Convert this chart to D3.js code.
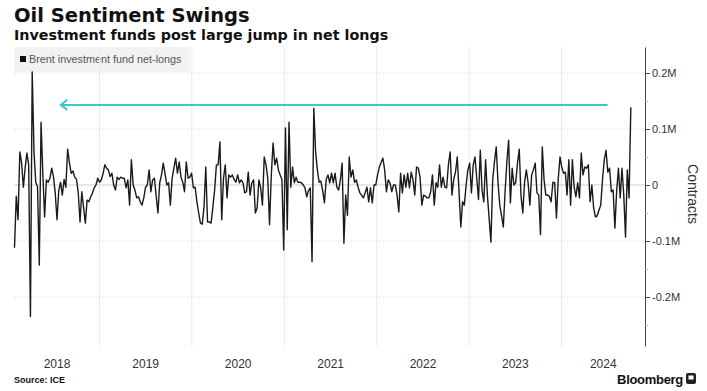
<!DOCTYPE html>
<html>
<head>
<meta charset="utf-8">
<script src="https://cdn.jsdelivr.net/npm/d3@7"></script>
<style>
html,body{margin:0;padding:0;background:#fff;}
svg{display:block;}
</style>
</head>
<body>
<svg id="chart" width="707" height="391"></svg>
<script>
// ---------- data ----------
const title = "Oil Sentiment Swings";
const subtitle = "Investment funds post large jump in net longs";
const seriesName = "Brent investment fund net-longs";
const yAxisTitle = "Contracts";
const sourceText = "Source: ICE";
const brandText = "Bloomberg";
const firstWeek = "2018-01-30"; // weekly observations (Tuesdays)
// weekly change in net longs, thousand contracts
const netLongChangeK = [
-112,-20,-62,59,40,-4,30,57,36,-235,202,60,5,-3,-143,112,20,-57,9,5,
12,30,15,-14,-62,-10,5,-18,10,-4,64,40,21,25,14,10,-14,-66,-12,-40,
-68,-27,-30,-21,-15,-5,0,12,5,9,20,36,30,27,15,21,0,-9,14,10,
14,12,12,-5,9,-36,45,0,-9,-23,-21,-30,-36,-23,-4,0,27,-12,9,12,
-20,-50,4,18,39,20,0,4,-36,12,30,48,21,41,14,5,-12,41,12,14,
21,-5,-4,-30,-50,-68,-70,-40,32,-66,-66,-68,-40,-9,36,36,77,-62,12,36,
-23,18,14,18,10,5,18,4,9,4,-14,-12,23,-18,4,9,-50,-41,9,-5,
-36,50,36,12,-71,18,75,36,48,27,18,10,-116,102,-80,112,-4,32,4,14,
5,5,4,0,-5,-21,-10,-5,-137,137,60,27,5,7,-10,-32,10,18,4,21,
4,21,-4,-9,9,39,-104,-18,-54,50,14,27,5,9,-4,-14,-18,-23,-14,-4,
-30,-5,-32,0,0,18,32,40,48,27,-12,9,4,-12,0,0,-18,-48,21,-14,
18,-4,21,-5,23,9,-18,32,30,14,-36,-18,-20,-23,-23,-12,18,-36,4,-4,
36,-4,14,-4,-5,36,59,-18,10,23,50,-12,-75,-30,-36,0,27,39,-14,36,
50,12,-26,62,-10,-30,45,-18,-60,-102,9,41,68,5,-36,-55,-75,-12,41,80,
-32,30,0,4,39,64,-20,-50,5,27,4,-36,18,27,39,-14,-18,-89,68,10,
-18,-18,-20,-30,5,4,-59,10,50,32,21,23,-18,45,-36,45,-4,-21,4,-23,
57,18,32,30,36,-30,0,-41,-57,-55,-45,-36,9,45,62,23,30,-12,-9,-77,
-10,30,-23,30,-18,-93,27,-23,139
];
const yTicks = [-0.2, -0.1, 0, 0.1, 0.2];
const yTickLabels = ["-0.2M", "-0.1M", "0", "0.1M", "0.2M"];
const yMinorTicks = [-0.25, -0.15, -0.05, 0.05, 0.15];
const yearLabels = ["2018", "2019", "2020", "2021", "2022", "2023", "2024"];
const xDomain = ["2018-01-30", "2024-11-26"];
const yDomain = [-0.2875, 0.2464];
// annotation arrow (points back to the early-2018 level)
const arrowFrom = "2024-07-01", arrowTo = "2018-07-30", arrowLevel = 0.143;

// ---------- build ----------
const parse = d3.utcParse("%Y-%m-%d");
const start = parse(firstWeek);
const data = netLongChangeK.map((v, i) => ({ date: d3.utcDay.offset(start, i * 7), v: v / 1000 }));

const svg = d3.select("#chart");
const L = 14.5, R = 645, T = 47, B = 346;
const x = d3.scaleUtc().domain(xDomain.map(parse)).range([L, R]);
const y = d3.scaleLinear().domain(yDomain).range([B, T]);

// titles
svg.append("text").attr("x", 14).attr("y", 22)
  .attr("font-family", "DejaVu Sans").attr("font-weight", "bold").attr("font-size", 19.5)
  .attr("fill", "#111").text(title);
svg.append("text").attr("x", 14).attr("y", 40)
  .attr("font-family", "DejaVu Sans").attr("font-weight", "bold").attr("font-size", 14.3)
  .attr("fill", "#111").text(subtitle);

// legend box
svg.append("rect").attr("x", 14).attr("y", 47).attr("width", 176).attr("height", 25).attr("fill", "#f2f2f2");
svg.append("rect").attr("x", 20).attr("y", 56).attr("width", 6).attr("height", 6).attr("fill", "#111");
svg.append("text").attr("x", 29).attr("y", 63)
  .attr("font-family", "Liberation Sans").attr("font-size", 10.8).attr("fill", "#555").text(seriesName);

// vertical gridlines at year boundaries
const yearStarts = yearLabels.slice(1).map(s => d3.utcParse("%Y")(s));
svg.append("g").selectAll("line").data(yearStarts).join("line")
  .attr("x1", d => x(d)).attr("x2", d => x(d)).attr("y1", T).attr("y2", B)
  .attr("stroke", "#e8e8e8").attr("stroke-width", 1);

// horizontal gridlines
svg.append("g").selectAll("line").data(yTicks).join("line")
  .attr("x1", L).attr("x2", R).attr("y1", d => y(d)).attr("y2", d => y(d))
  .attr("stroke", d => d === 0 ? "#cfcfcf" : "#dedede")
  .attr("stroke-dasharray", d => d === 0 ? null : "2,2")
  .attr("stroke-width", 1);

// arrow annotation
const ay = y(arrowLevel), ax0 = x(parse(arrowTo)), ax1 = x(parse(arrowFrom));
svg.append("line").attr("x1", ax0).attr("x2", ax1).attr("y1", ay).attr("y2", ay)
  .attr("stroke", "#3cc8c8").attr("stroke-width", 2);
svg.append("polyline")
  .attr("points", `${ax0 + 7},${ay - 5} ${ax0 + 0.5},${ay} ${ax0 + 7},${ay + 5}`)
  .attr("fill", "none").attr("stroke", "#3cc8c8").attr("stroke-width", 2);

// series line
svg.append("path").datum(data)
  .attr("d", d3.line().x(d => x(d.date)).y(d => y(d.v)))
  .attr("fill", "none").attr("stroke", "#1a1a1a").attr("stroke-width", 1.4)
  .attr("stroke-linejoin", "round");

// right axis
const axis = svg.append("g").attr("transform", `translate(${R},0)`)
  .call(d3.axisRight(y).tickValues(yTicks).tickFormat((d, i) => yTickLabels[i]).tickSize(5).tickSizeOuter(0).tickPadding(2));
axis.select(".domain").attr("stroke", "#444");
axis.selectAll(".tick line").attr("stroke", "#444");
axis.selectAll("text").attr("font-family", "Liberation Sans").attr("font-size", 11).attr("fill", "#333");
const minor = svg.append("g").attr("transform", `translate(${R},0)`)
  .call(d3.axisRight(y).tickValues(yMinorTicks).tickFormat("").tickSize(3).tickSizeOuter(0));
minor.select(".domain").remove();
minor.selectAll(".tick line").attr("stroke", "#bbb");

svg.append("text").attr("transform", `translate(688,194) rotate(90)`)
  .attr("text-anchor", "middle").attr("font-family", "Liberation Sans").attr("font-size", 14)
  .attr("fill", "#333").text(yAxisTitle);

// year labels centred on visible part of each year
const yr = d3.utcParse("%Y");
svg.append("g").selectAll("text").data(yearLabels).join("text")
  .attr("x", d => {
    const a = Math.max(x(yr(d)), L), b = Math.min(x(yr(String(+d + 1))), R);
    return (a + b) / 2;
  })
  .attr("y", 368).attr("text-anchor", "middle")
  .attr("font-family", "Liberation Sans").attr("font-size", 12).attr("fill", "#333").text(d => d);

// footer
svg.append("text").attr("x", 14).attr("y", 383)
  .attr("font-family", "Liberation Sans").attr("font-weight", "bold").attr("font-size", 9)
  .attr("fill", "#111").text(sourceText);
svg.append("text").attr("x", 683).attr("y", 384).attr("text-anchor", "end")
  .attr("font-family", "Liberation Sans").attr("font-weight", "bold").attr("font-size", 13)
  .attr("fill", "#111").attr("letter-spacing", -0.3).text(brandText);
svg.append("rect").attr("x", 686).attr("y", 373).attr("width", 10).attr("height", 11).attr("rx", 2).attr("fill", "#222");
svg.append("rect").attr("x", 688.5).attr("y", 375.5).attr("width", 5).attr("height", 4).attr("fill", "#fff");
</script>
</body>
</html>
